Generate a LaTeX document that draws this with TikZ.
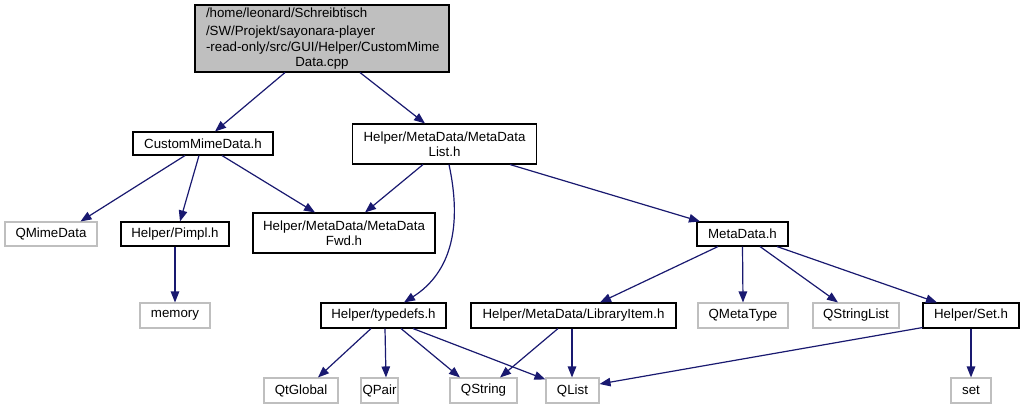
\documentclass[tikz,border=0pt]{standalone}
\usepackage{fontspec}
\setmainfont{Liberation Sans}
\usetikzlibrary{arrows.meta,calc}
\definecolor{edgeblue}{HTML}{191970}
\definecolor{rootgray}{HTML}{BFBFBF}
\definecolor{extgray}{HTML}{BFBFBF}
\begin{document}
\begin{tikzpicture}[x=1pt,y=-1pt,
  font=\fontsize{13.3pt}{15.5pt}\selectfont,
  filebox/.style={draw=black,line width=1.1pt,fill=white,inner sep=0pt,align=center},
  extbox/.style={draw=extgray,line width=1.1pt,fill=white,inner sep=0pt,align=center},
  edge/.style={draw=edgeblue,line width=1.2pt,-{Triangle[length=11pt,width=8.5pt]}}]
\useasboundingbox (0,0) rectangle (1024,409);
\fill[white] (0,0) rectangle (1024,409);

% nodes
\node[draw=black,line width=1.1pt,fill=rootgray,minimum width=254pt,minimum height=67pt,inner xsep=11pt,inner ysep=0pt,text width=232pt] (root) at (322,38.5)
  {\hyphenpenalty=10000\exhyphenpenalty=10000\raggedright\vspace*{3pt}\mbox{/home/leonard/Schreibtisch}\\\mbox{/SW/Projekt/sayonara-player}\\\mbox{-read-only/src/GUI/Helper/CustomMime}\par\centering Data.cpp\par};
\node[filebox,minimum width=140pt,minimum height=23pt] (cmd) at (203,143.5) {CustomMimeData.h};
\node[filebox,minimum width=184pt,minimum height=40pt] (mdl) at (444.5,144) {Helper/MetaData/MetaData\\List.h};
\node[extbox,minimum width=92pt,minimum height=24pt] (qmime) at (51,234) {QMimeData};
\node[filebox,minimum width=108pt,minimum height=24pt] (pimpl) at (175,234) {Helper/Pimpl.h};
\node[filebox,minimum width=182pt,minimum height=40pt] (fwd) at (344,233) {Helper/MetaData/MetaData\\Fwd.h};
\node[filebox,minimum width=91pt,minimum height=24pt] (md) at (742.5,234) {MetaData.h};
\node[extbox,minimum width=70pt,minimum height=25pt] (memory) at (175,315.5) {memory};
\node[filebox,minimum width=125pt,minimum height=25pt] (typedefs) at (383.5,315.5) {Helper/typedefs.h};
\node[filebox,minimum width=205pt,minimum height=25pt] (libitem) at (573.5,315.5) {Helper/MetaData/LibraryItem.h};
\node[extbox,minimum width=90pt,minimum height=25pt] (qmetatype) at (743,315.5) {QMetaType};
\node[extbox,minimum width=86pt,minimum height=25pt] (qstringlist) at (856,315.5) {QStringList};
\node[filebox,minimum width=96pt,minimum height=25pt] (seth) at (971,315.5) {Helper/Set.h};
\node[extbox,minimum width=40pt,minimum height=25pt] (set) at (971,390.5) {set};
\node[extbox,minimum width=74pt,minimum height=25pt] (qtglobal) at (301,390.5) {QtGlobal};
\node[extbox,minimum width=37pt,minimum height=25pt] (qpair) at (379.5,390.5) {QPair};
\node[extbox,minimum width=67pt,minimum height=25pt] (qstring) at (483.5,390.5) {QString};
\node[extbox,minimum width=53pt,minimum height=25pt] (qlist) at (572.5,390.5) {QList};

% edges
\draw[edge] ([xshift=-37pt]root.south) -- ([xshift=12pt]cmd.north);
\draw[edge] ([xshift=38pt]root.south) -- ([xshift=-19.5pt]mdl.north);
\draw[edge] ([xshift=-18pt]cmd.south) -- ([xshift=29.5pt]qmime.north);
\draw[edge] ([xshift=-4pt]cmd.south) -- ([xshift=5pt]pimpl.north);
\draw[edge] ([xshift=19pt]cmd.south) -- ([xshift=-29pt]fwd.north);
\draw[edge] ([xshift=-21.5pt]mdl.south) -- ([xshift=21pt]fwd.north);
\draw[edge] ([xshift=4.5pt]mdl.south) .. controls (462,225) and (452,272) .. ([xshift=20.5pt]typedefs.north);
\draw[edge] ([xshift=65.5pt]mdl.south) -- ([xshift=-42.5pt]md.north);
\draw[edge] (pimpl.south) -- (memory.north);
\draw[edge] ([xshift=-24.5pt]md.south) -- ([xshift=26.5pt]libitem.north);
\draw[edge] (md.south) -- (qmetatype.north);
\draw[edge] ([xshift=17.5pt]md.south) -- ([xshift=-18pt]qstringlist.north);
\draw[edge] ([xshift=34.5pt]md.south) -- ([xshift=-34pt]seth.north);
\draw[edge] (seth.south) -- (set.north);
\draw[edge] ([yshift=1pt]seth.south west) -- ([yshift=6.5pt]qlist.east);
\draw[edge] ([xshift=-12.5pt]typedefs.south) -- ([xshift=17pt]qtglobal.north);
\draw[edge] ([xshift=1.5pt]typedefs.south) -- ([xshift=6.5pt]qpair.north);
\draw[edge] ([xshift=17.5pt]typedefs.south) -- ([xshift=-23.5pt]qstring.north);
\draw[edge] ([xshift=29.5pt]typedefs.south) -- ([yshift=-2pt]qlist.north west);
\draw[edge] ([xshift=-15.5pt]libitem.south) -- ([xshift=16.5pt]qstring.north);
\draw[edge] ([xshift=-1.5pt]libitem.south) -- ([xshift=-0.5pt]qlist.north);
\end{tikzpicture}
\end{document}
